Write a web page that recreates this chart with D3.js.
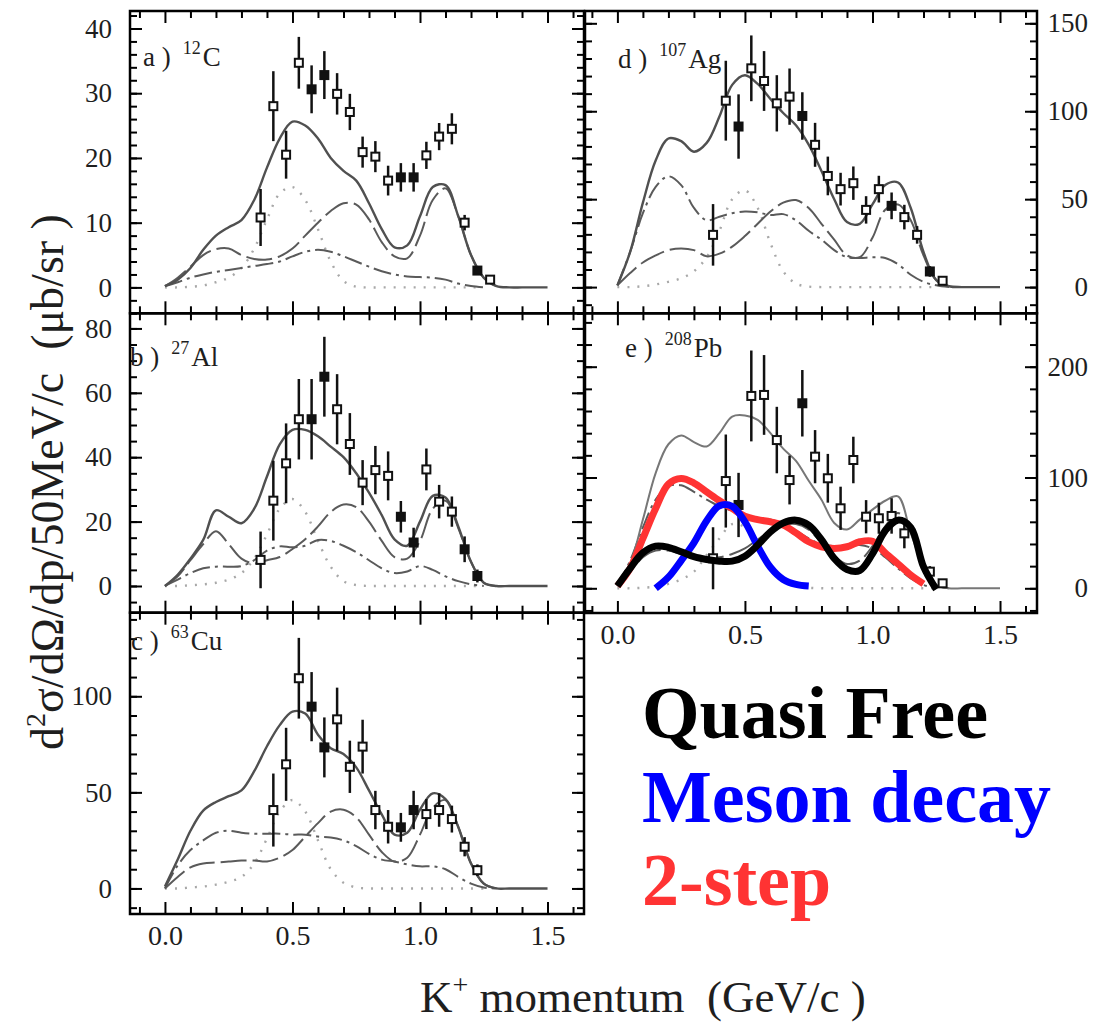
<!DOCTYPE html>
<html>
<head>
<meta charset="utf-8">
<script src="https://cdn.jsdelivr.net/npm/d3@7"></script>
<style>
  body { margin: 0; background: #fff; }
  svg { display: block; }
  text { font-family: 'Liberation Serif', 'Times New Roman', serif; }
</style>
</head>
<body>
<div id="chart"></div>
<script>
// momentum grid used for the model curves (GeV/c)
const pGrid = [0, 0.05, 0.1, 0.15, 0.2, 0.25, 0.3, 0.35, 0.4, 0.45, 0.5, 0.55, 0.6, 0.65, 0.7, 0.75,
  0.8, 0.85, 0.9, 0.95, 1.0, 1.05, 1.1, 1.15, 1.2, 1.25, 1.3, 1.35, 1.4, 1.45, 1.5]
// momentum of the measured points
const expP = [0.375, 0.425, 0.475, 0.525, 0.575, 0.625, 0.675, 0.725, 0.775, 0.825, 0.875, 0.925,
  0.975, 1.025, 1.075, 1.125, 1.175, 1.225, 1.275]

// a) 12C
const totalA = [0.2, 1.2, 3.0, 5.8, 8.0, 9.3, 10.4, 13.5, 18.5, 23.0, 25.6, 25.0, 23.0, 20.0, 18.0, 16.5, 13.0, 9.0, 6.2, 6.5, 11.0, 15.5, 15.8, 11.0, 5.0, 1.5, 0.2, 0, 0, 0, 0]
const qfA = [0.2, 1.5, 3.2, 5.0, 5.9, 6.0, 5.0, 4.4, 4.3, 4.8, 6.0, 8.0, 10.0, 11.8, 13.0, 12.8, 10.5, 7.0, 4.8, 4.5, 8.0, 13.5, 15.3, 11.0, 5.0, 1.5, 0.2, null, null, null, null]
const twoA = [0.2, 0.8, 1.5, 2.0, 2.4, 2.7, 3.0, 3.3, 3.6, 4.0, 4.8, 5.5, 5.8, 5.5, 4.8, 4.0, 3.2, 2.5, 2.0, 1.7, 1.6, 1.5, 1.2, 0.6, 0.2, 0, null, null, null, null, null]
const mesA = [0, 0, 0.1, 0.3, 0.8, 1.5, 3.0, 6.0, 10.5, 14.5, 15.5, 13.5, 9.0, 4.0, 1.0, 0.1, 0, 0, 0, 0, 0, 0, 0, 0, 0, 0, null, null, null, null, null]
const dataA = [10.8, 28.0, 20.5, 34.7, 30.6, 32.8, 29.9, 27.1, 20.9, 20.2, 16.5, 17.0, 17.0, 20.4, 23.3, 24.5, 10.0, 2.6, 1.2]
const errA = [4.4, 5.4, 3.7, 4.0, 3.7, 3.7, 3.2, 2.8, 2.4, 2.4, 2.3, 2.2, 2.2, 2.1, 2.1, 2.4, 1.2, 0.6, 0.5]
const fillA = [4, 5, 11, 12, 17]

// b) 27Al
const totalB = [0, 3.5, 8.5, 14.3, 23.5, 21.5, 19.5, 24.0, 34.0, 44.0, 48.5, 48.5, 46.5, 43.3, 40.0, 35.0, 29.0, 22.0, 14.5, 12.5, 20.0, 28.0, 27.5, 18.5, 7.5, 1.0, 0, 0, 0, 0, 0]
const qfB = [0, 3, 8, 13, 17, 13, 8.5, 7, 8, 9, 11.5, 14.5, 18.5, 23, 25.3, 24.5, 20, 14, 9, 8.5, 14, 24, 26.5, 18, 7.5, 1, 0, null, null, null, null]
const twoB = [0, 2, 4, 5.5, 6, 6, 6.2, 8, 11, 12.3, 12, 12.5, 14.3, 14, 12.5, 10.5, 8, 5.5, 4, 4.5, 6.2, 5, 3, 1.5, 0.5, 0, null, null, null, null, null]
const mesB = [0, 0, 0.2, 0.5, 1, 2, 4, 8.5, 16, 24, 27, 23, 14, 6, 1.5, 0.3, 0, 0, 0, 0, 0, 0, 0, 0, 0, 0, null, null, null, null, null]
const dataB = [8.1, 26.5, 38.1, 51.8, 51.8, 65.0, 54.9, 44.1, 32.1, 36.0, 34.2, 21.5, 13.5, 36.2, 26.2, 23.1, 11.4, 3.1, null]
const errB = [8.8, 12.4, 12.4, 12.5, 12.5, 12.4, 10.9, 9.6, 7.0, 7.5, 7.6, 4.9, 4.6, 6.5, 5.2, 4.7, 4.0, 2.0, null]
const fillB = [4, 5, 11, 12, 16, 17]

// c) 63Cu
const totalC = [1, 15, 30, 40.5, 45, 48, 51, 61, 74, 85, 92, 91, 80, 73, 70, 63, 51, 38.5, 28, 29, 41, 49.5, 46.5, 32, 13, 2.5, 0, 0, 0, 0, 0]
const qfC = [0, 6, 11, 13, 13.5, 14, 14.5, 14.5, 14, 16, 20, 27, 34, 40, 41, 37, 28, 19, 14, 16, 28, 42, 46, 32, 13, 2.5, 0, null, null, null, null]
const twoC = [0, 12, 20, 25, 29, 30, 29, 28.5, 28.5, 28.5, 28, 28, 27, 26.5, 25, 22, 18, 15, 14, 12.5, 11.5, 11.5, 10, 6, 2.5, 0.5, 0, null, null, null, null]
const mesC = [0, 0, 0.5, 1, 2, 3.5, 6, 13, 26, 40, 46, 40, 25, 10, 3, 0.5, 0, 0, 0, 0, 0, 0, 0, 0, 0, 0, null, null, null, null, null]
const dataC = [null, 40.8, 64.6, 109.4, 94.6, 73.4, 88.0, 63.3, 73.8, 40.8, 32.1, 31.8, 40.8, 38.7, 40.8, 36.1, 21.7, 9.5, null]
const errC = [null, 19, 19, 21, 18, 15.6, 16.5, 13.6, 14, 10, 8.7, 7.5, 10, 7.8, 8.7, 7, 5, 3, null]
const fillC = [4, 5, 11, 12]

// d) 107Ag
const totalD = [1, 20, 48, 72, 84.5, 83, 77, 82, 97, 115, 120.5, 115.5, 107, 99, 92, 81, 66, 50, 37, 36, 47, 58, 59.5, 45, 20, 4, 0.5, 0, 0, 0, 0]
const qfD = [1, 8, 14, 18, 21, 22, 21, 17.5, 19, 23, 29, 36, 43, 48, 49.5, 45, 36, 27, 18, 17, 28, 44, 47, 38, 18, 4, 0.5, null, null, null, null]
const twoD = [1, 20, 42, 57, 63, 58, 45, 38, 40, 42, 43, 42.5, 41, 41.5, 38, 32, 27, 21, 17, 16.5, 17, 16.5, 13, 7, 3, 1, 0, null, null, null, null]
const mesD = [0, 0, 0.5, 1.5, 3, 5, 9, 17, 32, 50, 55, 45, 25, 9, 2, 0.3, 0, 0, 0, 0, 0, 0, 0, 0, 0, 0, null, null, null, null, null]
const dataD = [29.7, 106, 91.3, 124.4, 117.2, 104.5, 108.3, 97.3, 80.9, 63.2, 55.7, 59.1, 43.9, 55.7, 46.2, 39.8, 29.7, 8.9, 3.6]
const errD = [17.5, 22.7, 18.3, 18.7, 17, 16, 16, 13.5, 12.5, 11, 9.3, 9.5, 7.8, 7.6, 7.6, 7, 5, 3, 1.5]
const fillD = [2, 7, 14, 17]

// e) 208Pb
const totalE = [2, 22, 62, 104, 130, 138, 132, 128, 140, 155, 156, 152, 140, 126, 115, 97, 80, 59, 53, 62, 71, 79, 83, 50, 20, 3, 0, 0, 0, 0, 0]
const qfE = [2, 15, 28, 34, 34, 31, 28, 27, 28, 31, 36, 44, 52, 57, 58, 53, 41, 29, 22, 25, 38, 56, 68, 52, 20, 3, 0, null, null, null, null]
const twoE = [2, 25, 55, 80, 92, 93, 87, 80, 74, 70, 66, 63, 62, 58, 52, 45, 40, 38, 38, 39, 36, 28, 18, 9, 3, 0, null, null, null, null, null]
const mesE = [0, 0, 0.5, 1.5, 4, 8, 15, 30, 45, 58, 55, 38, 20, 7, 2, 0.5, 0, 0, 0, 0, 0, 0, 0, 0, 0, 0, null, null, null, null, null]
const dataE = [27.1, 96.8, 75.2, 173.6, 174.5, 133.8, 97.7, 167, 118.8, 99.3, 72.2, 115.8, 64.6, 63.2, 65.3, 49.6, null, 15, 4.5]
const errE = [28, 42, 29, 41, 36, 30, 22, 30, 24, 22, 19.5, 21, 15, 14, 16, 13.5, null, 5, 2]
const fillE = [2, 7]

// highlighted components drawn over panel e
const quasiFreeE = [2, 18, 32, 38, 37, 33, 28.5, 26, 24.5, 24.5, 29, 39, 51, 59, 61.5, 57, 44, 27, 17, 16, 31, 52, 61.5, 55, 19.5, -1, null, null, null, null, null]
const mesonDecayE = [null, null, null, 0, 10, 25, 41, 61, 74.5, 74, 60, 38, 19, 8, 3.5, 2, null, null, null, null, null, null, null, null, null, null, null, null, null, null, null]
const twoStepE = [2, 18, 45, 72, 94, 99, 95, 87, 79, 72, 65, 62, 60, 57, 50, 42, 37.5, 36, 37.5, 42, 42.5, 32, 22, 12, 4, null, null, null, null, null, null]

const legendNames = ['Quasi Free', 'Meson decay', '2-step']
const legendColors = ['#000000', '#0000ff', '#ff3333']

const xMajor = [0, 0.5, 1.0, 1.5]
const xMinor = [-0.1, 0.1, 0.2, 0.3, 0.4, 0.6, 0.7, 0.8, 0.9, 1.1, 1.2, 1.3, 1.4, 1.6]

const width = 1094
const height = 1026

const svg = d3
  .select('#chart')
  .append('svg')
  .attr('width', width)
  .attr('height', height)

const xLeft = d3.scaleLinear().domain([-0.137, 1.643]).range([130, 584])
const xRight = d3.scaleLinear().domain([-0.127, 1.645]).range([585, 1037])

const panels = [
  { col: 'left', yDomain: [-4.0, 42.7], yRange: [313.3, 11], major: 10, minor: 2, labels: [0, 10, 20, 30, 40],
    total: totalA, qf: qfA, two: twoA, mes: mesA, data: dataA, err: errA, filled: fillA,
    tag: ['a )', '12', 'C'], tagPos: [143, 66] },
  { col: 'left', yDomain: [-8.3, 84.7], yRange: [612.7, 313.3], major: 20, minor: 5, labels: [0, 20, 40, 60, 80],
    total: totalB, qf: qfB, two: twoB, mes: mesB, data: dataB, err: errB, filled: fillB,
    tag: ['b )', '27', 'Al'], tagPos: [130, 366] },
  { col: 'left', yDomain: [-13.3, 143.5], yRange: [914, 612.7], major: 50, minor: 10, labels: [0, 50, 100],
    total: totalC, qf: qfC, two: twoC, mes: mesC, data: dataC, err: errC, filled: fillC,
    tag: ['c )', '63', 'Cu'], tagPos: [131, 650], xLabels: true },
  { col: 'right', yDomain: [-14.9, 157], yRange: [313.3, 11], major: 50, minor: 10, labels: [0, 50, 100, 150],
    total: totalD, qf: qfD, two: twoD, mes: mesD, data: dataD, err: errD, filled: fillD,
    tag: ['d )', '107', 'Ag'], tagPos: [618, 68] },
  { col: 'right', yDomain: [-22.3, 248.2], yRange: [613, 313.3], major: 100, minor: 20, labels: [0, 100, 200],
    total: totalE, qf: qfE, two: twoE, mes: mesE, data: dataE, err: errE, filled: fillE,
    tag: ['e )', '208', 'Pb'], tagPos: [625, 357], xLabels: true, thinTotal: true,
    overlays: [
      { values: twoStepE, color: legendColors[2] },
      { values: mesonDecayE, color: legendColors[1] },
      { values: quasiFreeE, color: legendColors[0] }
    ] }
]

panels.forEach(drawPanel)

function drawPanel(p) {
  const x = p.col === 'left' ? xLeft : xRight
  const y = d3.scaleLinear().domain(p.yDomain).range(p.yRange)
  const g = svg.append('g')

  const line = d3
    .line()
    .defined(d => d[1] != null)
    .x(d => x(d[0]))
    .y(d => y(d[1]))
    .curve(d3.curveCatmullRom)

  const styles = [
    { values: p.mes, stroke: '#a8a8a8', width: 2.4, dash: '2 8' },
    { values: p.two, stroke: '#5a5a5a', width: 2, dash: '18 5 3 5' },
    { values: p.qf, stroke: '#5a5a5a', width: 2, dash: '26 6' },
    { values: p.total, stroke: p.thinTotal ? '#777' : '#505050', width: p.thinTotal ? 2 : 2.4, dash: null }
  ]
  styles.forEach(s => {
    g.append('path')
      .datum(pGrid.map((v, i) => [v, s.values[i]]))
      .attr('d', line)
      .attr('fill', 'none')
      .attr('stroke', s.stroke)
      .attr('stroke-width', s.width)
      .attr('stroke-dasharray', s.dash)
  })

  // measured points
  const pts = expP
    .map((v, i) => ({ p: v, v: p.data[i], e: p.err[i], filled: p.filled.includes(i) }))
    .filter(d => d.v != null)

  g.selectAll('.err')
    .data(pts)
    .enter()
    .append('line')
    .attr('x1', d => x(d.p))
    .attr('x2', d => x(d.p))
    .attr('y1', d => y(d.v - d.e))
    .attr('y2', d => y(d.v + d.e))
    .attr('stroke', '#111')
    .attr('stroke-width', 2.5)

  g.selectAll('.pt')
    .data(pts)
    .enter()
    .append('rect')
    .attr('x', d => x(d.p) - 4)
    .attr('y', d => y(d.v) - 4)
    .attr('width', 8)
    .attr('height', 8)
    .attr('fill', d => (d.filled ? '#111' : '#fff'))
    .attr('stroke', '#111')
    .attr('stroke-width', 2)

  if (p.overlays) {
    p.overlays.forEach(o => {
      g.append('path')
        .datum(pGrid.map((v, i) => [v, o.values[i]]))
        .attr('d', line)
        .attr('fill', 'none')
        .attr('stroke', o.color)
        .attr('stroke-width', 7)
        .attr('stroke-linejoin', 'round')
    })
  }

  // frame and inward ticks on every side
  const [x0, x1] = x.range()
  const [yb, yt] = p.yRange
  g.append('rect')
    .attr('x', x0)
    .attr('y', yt)
    .attr('width', x1 - x0)
    .attr('height', yb - yt)
    .attr('fill', 'none')
    .attr('stroke', '#000')
    .attr('stroke-width', 2.5)

  const yMinor = d3.range(Math.ceil(p.yDomain[0] / p.minor) * p.minor, p.yDomain[1], p.minor)
  const yMajor = d3.range(Math.ceil(p.yDomain[0] / p.major) * p.major, p.yDomain[1], p.major)

  const tickSets = [
    [d3.axisBottom(x), xMinor, 7, `translate(0,${yb})`],
    [d3.axisBottom(x), xMajor, 12, `translate(0,${yb})`],
    [d3.axisTop(x), xMinor, 7, `translate(0,${yt})`],
    [d3.axisTop(x), xMajor, 12, `translate(0,${yt})`],
    [d3.axisLeft(y), yMinor, 7, `translate(${x0},0)`],
    [d3.axisLeft(y), yMajor, 12, `translate(${x0},0)`],
    [d3.axisRight(y), yMinor, 7, `translate(${x1},0)`],
    [d3.axisRight(y), yMajor, 12, `translate(${x1},0)`]
  ]
  tickSets.forEach(([axis, vals, size, tr]) => {
    const a = g
      .append('g')
      .attr('transform', tr)
      .call(axis.tickValues(vals).tickSize(-size).tickFormat(''))
    a.select('.domain').remove()
    a.selectAll('line').attr('stroke', '#000').attr('stroke-width', 2)
  })

  // y tick labels
  if (p.col === 'left') {
    const a = g
      .append('g')
      .attr('transform', `translate(${x0},0)`)
      .call(d3.axisLeft(y).tickValues(p.labels).tickSize(0).tickPadding(18))
    styleLabels(a)
  } else {
    const a = g
      .append('g')
      .attr('transform', `translate(${x1},0)`)
      .call(d3.axisRight(y).tickValues(p.labels).tickSize(0))
    styleLabels(a)
    a.selectAll('text').attr('text-anchor', 'end').attr('x', 51)
  }

  if (p.xLabels) {
    const a = g
      .append('g')
      .attr('transform', `translate(0,${yb})`)
      .call(d3.axisBottom(x).tickValues(xMajor).tickSize(0).tickPadding(11).tickFormat(d3.format('.1f')))
    styleLabels(a)
    a.attr('font-size', 28)
  }

  // panel tag, e.g. "a ) 12C"
  const t = g
    .append('text')
    .attr('x', p.tagPos[0])
    .attr('y', p.tagPos[1])
    .attr('font-size', 27)
    .attr('fill', '#1e1e1e')
  t.append('tspan').text(p.tag[0])
  t.append('tspan').attr('dx', 12).attr('dy', -12).attr('font-size', 18).text(p.tag[1])
  t.append('tspan').attr('dx', 2).attr('dy', 12).text(p.tag[2])
}

function styleLabels(a) {
  a.select('.domain').remove()
  a.attr('font-size', 27)
    .attr('font-family', "'Liberation Serif', 'Times New Roman', serif")
  a.selectAll('text').attr('fill', '#1e1e1e')
}

// axis titles
const yTitle = svg
  .append('text')
  .attr('transform', 'translate(63,482) rotate(-90)')
  .attr('text-anchor', 'middle')
  .attr('font-size', 46)
  .attr('fill', '#1e1e1e')
yTitle.append('tspan').text('d')
yTitle.append('tspan').attr('dy', -18).attr('font-size', 28).text('2')
yTitle.append('tspan').attr('dy', 18).text('σ/dΩ/dp/50MeV/c\u00a0\u00a0(μb/sr\u00a0)')

const xTitle = svg
  .append('text')
  .attr('x', 420)
  .attr('y', 1012)
  .attr('font-size', 45)
  .attr('fill', '#1e1e1e')
xTitle.append('tspan').text('K')
xTitle.append('tspan').attr('dy', -18).attr('font-size', 28).text('+')
xTitle.append('tspan').attr('dy', 18).text('\u00a0momentum\u00a0\u00a0(GeV/c\u00a0)')

// legend for the highlighted curves
const legendY = [738, 822, 905]
svg
  .append('g')
  .selectAll('text')
  .data(legendNames)
  .enter()
  .append('text')
  .attr('x', 642)
  .attr('y', (d, i) => legendY[i])
  .attr('font-size', 74)
  .attr('font-weight', 'bold')
  .attr('fill', (d, i) => legendColors[i])
  .text(d => d)
</script>
</body>
</html>
